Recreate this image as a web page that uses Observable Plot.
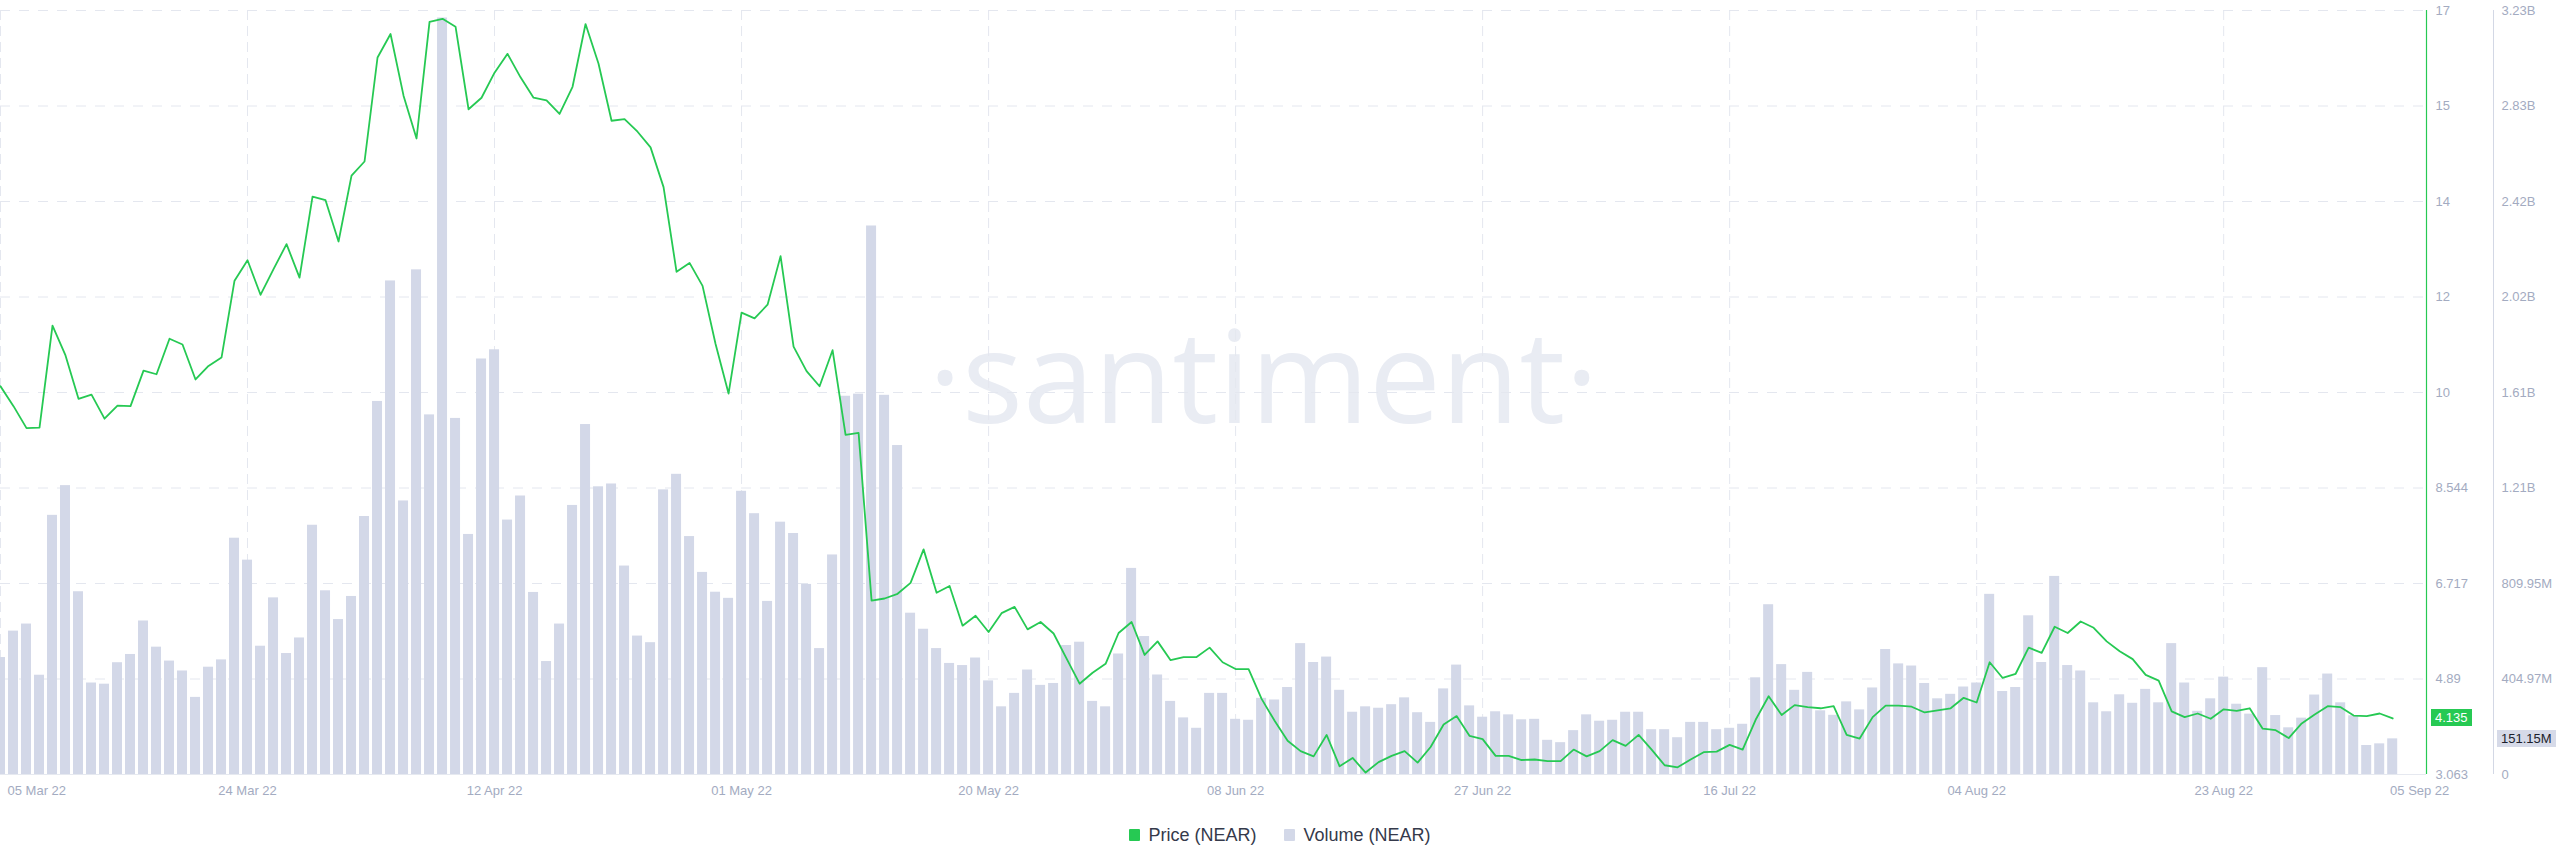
<!DOCTYPE html>
<html>
<head>
<meta charset="utf-8">
<script src="https://cdn.jsdelivr.net/npm/d3@7"></script>
<script src="https://cdn.jsdelivr.net/npm/@observablehq/plot@0.6"></script>
<style>
  html, body { margin: 0; padding: 0; background: #ffffff; }
  #wrap { position: relative; width: 2560px; height: 867px; overflow: hidden; font-family: 'Liberation Sans', Arial, sans-serif; }
  #wrap svg { position: absolute; left: 0; top: 0; overflow: visible; }
  .badge { position: absolute; font-size: 13px; line-height: 17px; height: 17px; padding: 0 4px; box-sizing: border-box; white-space: nowrap; }
  #legend { position: absolute; left: 0; top: 824px; width: 2560px; height: 22px; display: flex; justify-content: center; gap: 28px; font-size: 18px; line-height: 22px; color: #353a4b; }
  #legend .item { display: flex; align-items: center; }
  #legend .sw { width: 11px; height: 12px; border-radius: 1px; margin-right: 8px; }
</style>
</head>
<body>
<div id="wrap"></div>
<script>
// ---------- data ----------
const startDay = "2022-03-05";
const seriesNames = ["Price (NEAR)", "Volume (NEAR)"];

// daily NEAR price (USD), 05 Mar 22 .. 05 Sep 22
const price = [
  10.49,10.11,9.69,9.70,11.65,11.08,10.25,10.33,9.87,10.12,
  10.11,10.79,10.72,11.40,11.29,10.62,10.88,11.04,12.51,12.90,
  12.24,12.73,13.21,12.57,14.12,14.05,13.26,14.52,14.79,16.78,
  17.23,16.05,15.23,17.46,17.52,17.37,15.79,16.01,16.49,16.85,
  16.40,16.01,15.96,15.70,16.22,17.42,16.66,15.57,15.60,15.36,
  15.06,14.30,12.68,12.85,12.41,11.30,10.35,11.90,11.79,12.05,
  12.98,11.25,10.78,10.49,11.18,9.56,9.60,6.39,6.43,6.52,
  6.73,7.37,6.54,6.67,5.91,6.10,5.79,6.15,6.27,5.84,
  5.98,5.76,5.28,4.80,5.01,5.18,5.77,5.98,5.35,5.61,
  5.25,5.31,5.31,5.49,5.21,5.08,5.08,4.51,4.09,3.71,
  3.51,3.41,3.82,3.22,3.38,3.10,3.30,3.42,3.51,3.29,
  3.59,4.02,4.18,3.80,3.74,3.42,3.42,3.34,3.35,3.32,
  3.32,3.54,3.41,3.51,3.72,3.61,3.82,3.54,3.24,3.20,
  3.35,3.49,3.50,3.63,3.54,4.11,4.56,4.20,4.39,4.35,
  4.33,4.37,3.82,3.75,4.16,4.38,4.38,4.36,4.25,4.29,
  4.33,4.53,4.44,5.21,4.91,4.99,5.49,5.39,5.89,5.77,
  5.99,5.87,5.61,5.42,5.27,4.97,4.86,4.27,4.16,4.23,
  4.13,4.31,4.28,4.33,3.94,3.91,3.76,4.04,4.21,4.37,
  4.35,4.19,4.18,4.23,4.135
];

// daily NEAR volume (millions USD)
const volume = [
  496,608,638,421,1099,1225,775,388,383,474,
  509,651,540,481,439,327,455,486,1002,909,
  544,749,513,579,1057,779,657,755,1094,1582,
  2093,1160,2140,1525,3208,1510,1018,1762,1801,1079,
  1181,772,479,638,1141,1484,1220,1232,884,587,
  559,1207,1273,1009,857,773,747,1201,1106,734,
  1070,1022,806,534,931,1604,1613,2326,1608,1395,
  684,616,534,471,462,494,397,287,344,443,
  378,386,547,561,310,287,511,874,585,422,
  310,240,196,344,344,234,230,323,316,369,
  555,475,498,357,264,287,281,296,325,262,
  221,363,464,291,243,266,253,232,234,145,
  135,186,253,226,230,264,264,190,190,156,
  221,221,190,196,213,410,720,466,357,433,
  270,251,308,274,367,530,469,460,386,321,
  340,371,388,764,352,369,673,475,840,462,
  439,304,266,338,302,361,304,555,388,268,
  321,413,298,256,453,250,198,239,337,426,
  304,249,123,130,151.15
];

// axis ticks and labels
const priceTicks  = [3.063, 4.89, 6.717, 8.544, 10.371, 12.198, 14.025, 15.852, 17.679];
const priceLabels = ["3.063", "4.89", "6.717", "8.544", "10", "12", "14", "15", "17"];
const volumeTicks  = [0, 404.97, 809.95, 1214.92, 1619.9, 2024.87, 2429.85, 2834.82, 3239.8];
const volumeLabels = ["0", "404.97M", "809.95M", "1.21B", "1.61B", "2.02B", "2.42B", "2.83B", "3.23B"];
const xTickDays = ["2022-03-05","2022-03-24","2022-04-12","2022-05-01","2022-05-20","2022-06-08","2022-06-27","2022-07-16","2022-08-04","2022-08-23"];
const lastLabelDay = "2022-09-05";
const lastPriceLabel = "4.135";
const lastVolumeLabel = "151.15M";

// ---------- build ----------
const DAY = 864e5;
const start = new Date(startDay + "T00:00:00Z");
const data = price.map((p, i) => ({date: new Date(start.getTime() + i * DAY), price: p, volume: volume[i]}));
const xDomain = [start, new Date(start.getTime() + 186.6 * DAY)];
const xTicks = xTickDays.map(s => new Date(s + "T00:00:00Z"));
const lastDate = new Date(lastLabelDay + "T00:00:00Z");

const W = 2560, H = 810, MT = 10, MB = 36, MR = 134;
const fontFamily = "'Liberation Sans', Arial, sans-serif";
const labelColor = "#a3abc1";
const gridColor = "#e4e7ef";
const green = "#26c953";
const barColor = "#d3d8e8";
const fmtDate = d3.utcFormat("%d %b %y");

const common = {
  width: W, height: H, marginTop: MT, marginBottom: MB, marginLeft: 0, marginRight: MR,
  x: {type: "utc", domain: xDomain, axis: null, label: null},
  style: {fontFamily, fontSize: "13px", background: "transparent", overflow: "visible"}
};

const volPlot = Plot.plot({
  ...common,
  y: {domain: [volumeTicks[0], volumeTicks[volumeTicks.length - 1]], axis: null, label: null},
  marks: [
    Plot.text(["·santiment·"], {frameAnchor: "middle", dx: 50, dy: -10, fontSize: 128, fontFamily: "'Open Sans', sans-serif", fill: "#e9ecf3"}),
    Plot.gridY(volumeTicks.slice(1), {stroke: gridColor, strokeOpacity: 1, strokeDasharray: "10,9"}),
    Plot.gridX(xTicks, {stroke: gridColor, strokeOpacity: 1, strokeDasharray: "10,6"}),
    Plot.ruleY([0], {stroke: "#e6e9f0"}),
    Plot.rect(data, {
      x1: d => new Date(d.date.getTime() - 0.385 * DAY),
      x2: d => new Date(d.date.getTime() + 0.385 * DAY),
      y1: 0, y2: "volume", fill: barColor
    }),
    Plot.axisY({anchor: "right", label: null, ticks: volumeTicks, tickFormat: d => volumeLabels[volumeTicks.indexOf(d)], tickSize: 0, tickPadding: 8, dx: 67, color: labelColor, fontSize: 13}),
    Plot.ruleX([xDomain[1]], {dx: 67, stroke: "#d3d8e5"})
  ]
});

const pricePlot = Plot.plot({
  ...common,
  y: {domain: [priceTicks[0], priceTicks[priceTicks.length - 1]], axis: null, label: null},
  marks: [
    Plot.lineY(data, {x: "date", y: "price", stroke: green, strokeWidth: 1.8}),
    Plot.axisY({anchor: "right", label: null, ticks: priceTicks, tickFormat: d => priceLabels[priceTicks.indexOf(d)], tickSize: 0, tickPadding: 9, color: labelColor, fontSize: 13}),
    Plot.axisX({label: null, ticks: xTicks.slice(1), tickFormat: fmtDate, tickSize: 0, tickPadding: 11, color: labelColor, fontSize: 13}),
    Plot.text([xTicks[0]], {x: d => d, frameAnchor: "bottom", lineAnchor: "top", dy: 11, dx: 7, textAnchor: "start", text: d => fmtDate(d), fill: labelColor, fontSize: 13}),
    Plot.text([lastDate], {x: d => d, frameAnchor: "bottom", lineAnchor: "top", dy: 11, dx: 27, text: d => fmtDate(d), fill: labelColor, fontSize: 13}),
    Plot.ruleX([xDomain[1]], {stroke: green, strokeWidth: 1.2})
  ]
});

const wrap = document.getElementById("wrap");
wrap.appendChild(volPlot);
wrap.appendChild(pricePlot);

// value badges on the axes, positioned with the plots' own scales
const yP = pricePlot.scale("y"), yV = volPlot.scale("y"), xS = pricePlot.scale("x");
const xRight = xS.apply(xDomain[1]);
const b1 = document.createElement("div");
b1.className = "badge";
b1.textContent = lastPriceLabel;
Object.assign(b1.style, {left: (xRight + 5) + "px", top: (yP.apply(price[price.length - 1]) - 8.5) + "px", background: green, color: "#ffffff"});
wrap.appendChild(b1);
const b2 = document.createElement("div");
b2.className = "badge";
b2.textContent = lastVolumeLabel;
Object.assign(b2.style, {left: (xRight + 71) + "px", top: (yV.apply(volume[volume.length - 1]) - 8.5) + "px", background: "#d6dae8", color: "#1b1e2c"});
wrap.appendChild(b2);

// legend
const legend = document.createElement("div");
legend.id = "legend";
[[seriesNames[0], green], [seriesNames[1], barColor]].forEach(([name, c]) => {
  const it = document.createElement("div");
  it.className = "item";
  const sw = document.createElement("div");
  sw.className = "sw";
  sw.style.background = c;
  const t = document.createElement("span");
  t.textContent = name;
  it.appendChild(sw); it.appendChild(t);
  legend.appendChild(it);
});
wrap.appendChild(legend);
</script>
</body>
</html>
